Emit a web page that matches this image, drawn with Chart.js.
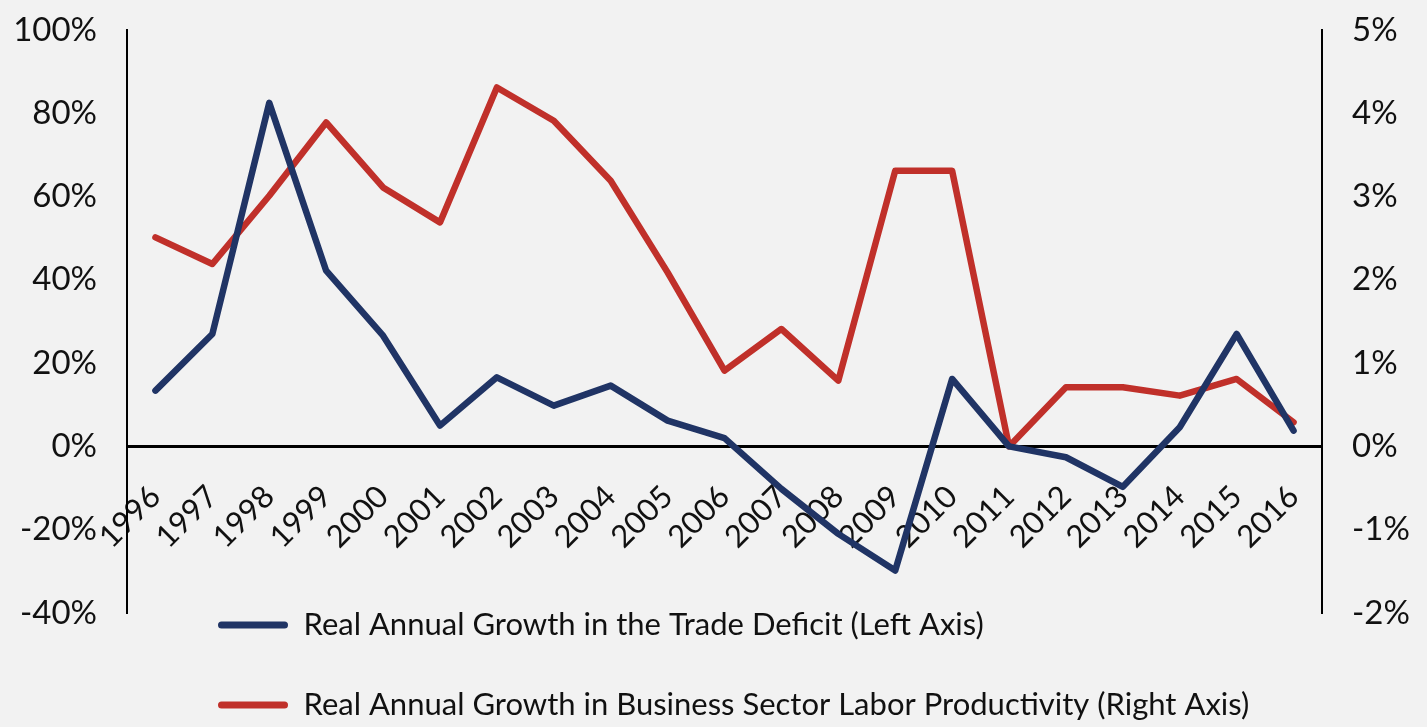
<!DOCTYPE html>
<html>
<head>
<meta charset="utf-8">
<script src="https://cdn.jsdelivr.net/npm/chart.js@4"></script>
<style>
  html, body { margin: 0; padding: 0; background: #f2f2f2; }
  #wrap { width: 1427px; height: 727px; }
</style>
</head>
<body>
<div id="wrap"><canvas id="c" width="1427" height="727"></canvas></div>
<script>
const years = ["1996","1997","1998","1999","2000","2001","2002","2003","2004","2005","2006","2007","2008","2009","2010","2011","2012","2013","2014","2015","2016"];
const tradeDeficitGrowth = [13.4, 27.0, 82.5, 42.2, 26.6, 5.0, 16.6, 9.8, 14.6, 6.2, 2.0, -10.2, -21.0, -29.8, 16.2, 0.0, -2.6, -9.7, 4.6, 27.0, 3.8];
const productivityGrowth = [2.51, 2.19, 3.01, 3.89, 3.11, 2.69, 4.31, 3.91, 3.19, 2.09, 0.91, 1.41, 0.79, 3.31, 3.31, 0.0, 0.71, 0.71, 0.61, 0.81, 0.29];
const leftTicks = { min: -40, max: 100, step: 20 };
const rightTicks = { min: -2, max: 5, step: 1 };
const seriesNames = [
  "Real Annual Growth in the Trade Deficit (Left Axis)",
  "Real Annual Growth in Business Sector Labor Productivity (Right Axis)"
];

const FONT = "Lato";

const legendShift = {
  id: 'legendShift',
  afterLayout(chart) {
    const lg = chart.legend;
    if (!lg) return;
    lg.left = 218 - 49;
    lg.top = 625 - 49 - 15.5;
  }
};

new Chart(document.getElementById('c'), {
  type: 'line',
  data: {
    labels: years,
    datasets: [
      {
        label: seriesNames[0],
        data: tradeDeficitGrowth,
        yAxisID: 'yL',
        borderColor: '#203465',
        backgroundColor: '#203465',
        borderWidth: 6.5,
        pointRadius: 0,
        tension: 0,
        borderJoinStyle: 'round',
        borderCapStyle: 'round'
      },
      {
        label: seriesNames[1],
        data: productivityGrowth,
        yAxisID: 'yR',
        borderColor: '#c0302a',
        backgroundColor: '#c0302a',
        borderWidth: 6.5,
        pointRadius: 0,
        tension: 0,
        borderJoinStyle: 'round',
        borderCapStyle: 'round'
      }
    ]
  },
  options: {
    responsive: false,
    animation: false,
    devicePixelRatio: 1,
    layout: { padding: { top: 30, left: 0, right: 0, bottom: 0 } },
    plugins: {
      tooltip: { enabled: false },
      legend: {
        display: true,
        position: 'bottom',
        align: 'start',
        maxHeight: 114,
        labels: {
          font: { family: FONT, size: 31 },
          color: '#111',
          boxWidth: 70,
          boxHeight: 7,
          padding: 49,
          useBorderRadius: true,
          borderRadius: 3.5,
          generateLabels(chart) {
            return Chart.defaults.plugins.legend.labels.generateLabels(chart).map(it => Object.assign(it, { lineWidth: 0 }));
          }
        }
      }
    },
    scales: {
      x: {
        position: { yL: 0 },
        offset: true,
        grid: { display: false, drawTicks: false },
        border: { display: true, color: '#000', width: 3 },
        ticks: {
          font: { family: FONT, size: 31 },
          color: '#111',
          minRotation: 45,
          maxRotation: 45,
          padding: 32,
          autoSkip: false
        }
      },
      yL: {
        position: 'left',
        min: leftTicks.min,
        max: leftTicks.max,
        afterFit(s) { s.width = 127; },
        grid: { display: false, drawTicks: true, tickLength: 29 },
        border: { display: true, color: '#000', width: 2 },
        ticks: {
          stepSize: leftTicks.step,
          font: { family: FONT, size: 33 },
          color: '#111',
          padding: 1,
          callback: v => v + '%'
        }
      },
      yR: {
        position: 'right',
        min: rightTicks.min,
        max: rightTicks.max,
        afterFit(s) { s.width = 105; },
        grid: { display: false, drawTicks: true, tickLength: 29 },
        border: { display: true, color: '#000', width: 2 },
        ticks: {
          stepSize: rightTicks.step,
          font: { family: FONT, size: 33 },
          color: '#111',
          padding: 1,
          callback: v => v + '%'
        }
      }
    }
  },
  plugins: [legendShift]
});
</script>
</body>
</html>
